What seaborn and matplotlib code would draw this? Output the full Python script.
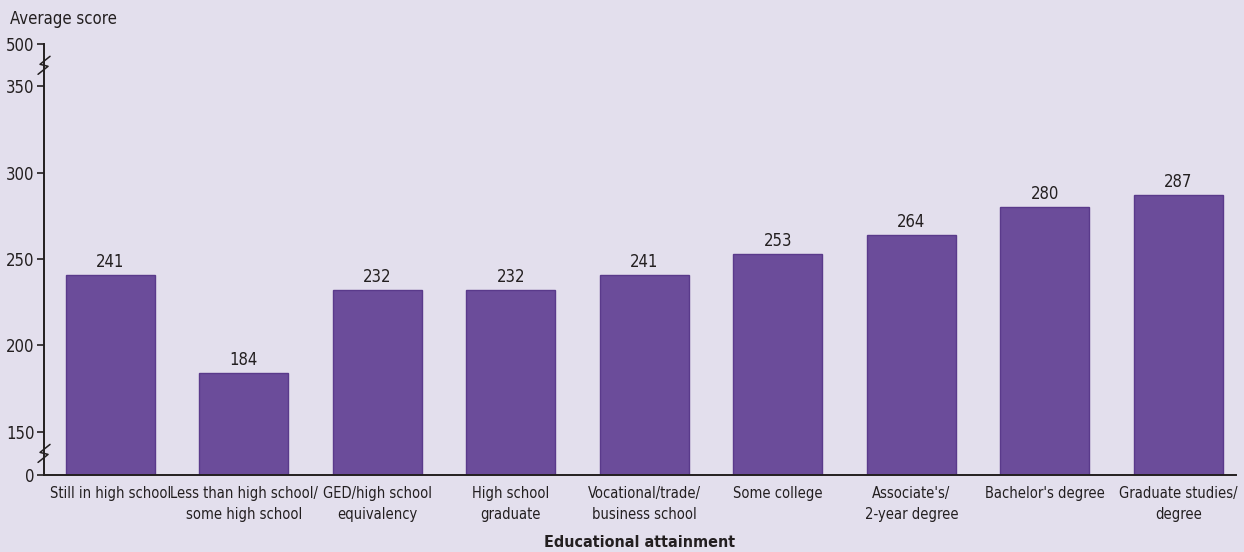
"""Average score by educational attainment - bar chart with broken y axis."""

import matplotlib
matplotlib.use("Agg")
import matplotlib.pyplot as plt
import numpy as np
import pandas as pd
import seaborn as sns
from matplotlib.lines import Line2D

categories = [
    "Still in high school",
    "Less than high school/\nsome high school",
    "GED/high school\nequivalency",
    "High school\ngraduate",
    "Vocational/trade/\nbusiness school",
    "Some college",
    "Associate's/\n2-year degree",
    "Bachelor's degree",
    "Graduate studies/\ndegree",
]
scores = [241, 184, 232, 232, 241, 253, 264, 280, 287]
y_ticks = [0, 150, 200, 250, 300, 350, 500]

BG = "#e3dfed"
BAR = "#6b4c9a"
EDGE = "#5a3a8b"
INK = "#231f20"

sns.set_theme(style="white")
plt.rcParams["font.family"] = ["Liberation Sans Narrow", "DejaVu Sans"]
plt.rcParams["font.stretch"] = "condensed"
plt.rcParams["text.color"] = INK

# broken axis: squeeze 0-150 and 350-500, keep 150-350 linear
brk_in = [0, 150, 350, 500]
brk_out = [0, 25, 225, 249.5]


def fwd(v):
    return np.interp(v, brk_in, brk_out)


def inv(v):
    return np.interp(v, brk_out, brk_in)


df = pd.DataFrame({"level": categories, "score": scores})

fig = plt.figure(figsize=(12.44, 5.52), dpi=100, facecolor=BG)
ax = fig.add_axes([0.0354, 0.1395, 0.958, 0.7805])
ax.set_facecolor(BG)

sns.barplot(data=df, x="level", y="score", color=BAR, saturation=1,
            width=0.667, edgecolor=EDGE, linewidth=1, ax=ax)
ax.set_yscale("function", functions=(fwd, inv))
ax.set_ylim(0, 500)
ax.set_xlim(-0.495, 8.43)

for c in ax.containers:
    ax.bar_label(c, fmt="%d", padding=3, fontsize=12, color=INK)

ax.set_yticks(y_ticks)
ax.set_yticklabels([str(t) for t in y_ticks])
ax.tick_params(axis="y", direction="out", length=5, width=1.2, color=INK,
               labelsize=12, pad=2, labelcolor=INK, left=True)
ax.tick_params(axis="x", length=0, labelsize=10.5, pad=8, labelcolor=INK)
for lbl in ax.get_xticklabels():
    lbl.set_linespacing(1.45)

for side in ["top", "right"]:
    ax.spines[side].set_visible(False)
for side in ["left", "bottom"]:
    ax.spines[side].set_color(INK)
    ax.spines[side].set_linewidth(1.4)

ax.set_xlabel("Educational attainment", fontsize=11.5, fontweight="bold",
              color=INK, labelpad=10)
ax.set_ylabel("")
fig.text(0.008, 0.965, "Average score", fontsize=12, color=INK,
         ha="left", va="center")

# zigzag break marks on the y axis
fig.canvas.draw()
zig = [(-6, -9), (4, -1), (-4, 1), (6, 9)]
for yv in (75, 425):
    x0, y0 = ax.transData.transform((-0.495, yv))
    xs = [x0 + dx for dx, dy in zig]
    ys = [y0 + dy for dx, dy in zig]
    fig.add_artist(Line2D(xs, ys, color=INK, lw=1.1, transform=None))

fig.savefig("out.png", dpi=100, facecolor=BG)
